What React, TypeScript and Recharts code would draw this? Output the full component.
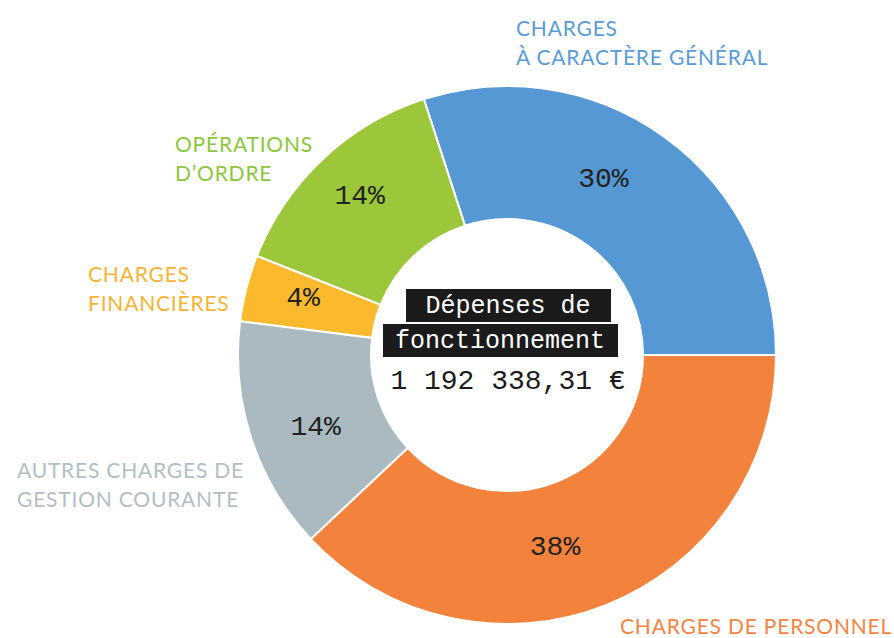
import React from 'react'
import { PieChart, Pie, Cell } from 'recharts'

const categories = [
  'CHARGES\nÀ CARACTÈRE GÉNÉRAL',
  'OPÉRATIONS\nD’ORDRE',
  'CHARGES\nFINANCIÈRES',
  'AUTRES CHARGES DE\nGESTION COURANTE',
  'CHARGES DE PERSONNEL',
]
const shares = [30, 14, 4, 14, 38]
const colors = ['#5598d3', '#9cc73b', '#fbba2d', '#abbac1', '#f2823c']
const textColors = ['#5b9bd5', '#8cc63e', '#f5b335', '#b2bec4', '#f28444']
const centerTitle = ['Dépenses de', 'fonctionnement']
const centerTotal = '1 192 338,31 €'

const data = categories.map((name, i) => ({ name, value: shares[i] }))

// where the category names sit (layout only)
const namePos = [
  { x: 516, y: 36 },
  { x: 175, y: 152 },
  { x: 88, y: 282 },
  { x: 17, y: 478 },
  { x: 620, y: 634 },
]
// small nudges for the percent labels, as in the original layout
const pctNudge = [
  [-25, -8],
  [-6, -8],
  [-4, -5],
  [5, 9],
  [-28, 1],
]

const RAD = Math.PI / 180
const mono = '"Liberation Mono", "DejaVu Sans Mono", monospace'

function renderLabel(props: any) {
  const { cx, cy, midAngle, innerRadius, outerRadius, value, index } = props
  const r = (innerRadius + outerRadius) / 2 + 4
  const x = cx + r * Math.cos(-midAngle * RAD) + pctNudge[index][0]
  const y = cy + r * Math.sin(-midAngle * RAD) + pctNudge[index][1]
  const pos = namePos[index]
  const lines = categories[index].split('\n')
  return (
    <g key={'lbl' + index}>
      <text x={x} y={y} textAnchor="middle" dominantBaseline="central" fill="#222" fontFamily={mono} fontSize={28}>
        {value}%
      </text>
      <text x={pos.x} y={pos.y} fill={textColors[index]} fontFamily="Lato, sans-serif" fontSize={21} letterSpacing={0.8}>
        {lines.map((l, k) => (
          <tspan key={k} x={pos.x} dy={k === 0 ? 0 : 29}>{l}</tspan>
        ))}
      </text>
    </g>
  )
}

export default function App() {
  return (
    <div style={{ position: 'absolute', left: 0, top: 0, background: '#fff' }}>
      <PieChart width={894} height={638} margin={{ top: 0, right: 0, bottom: 0, left: 0 }}>
        <Pie
          data={data}
          dataKey="value"
          nameKey="name"
          cx={507}
          cy={355}
          innerRadius={136}
          outerRadius={269}
          startAngle={0}
          endAngle={360}
          stroke="#fff"
          strokeWidth={2}
          label={renderLabel}
          labelLine={false}
          isAnimationActive={false}
        >
          {data.map((d, i) => (
            <Cell key={d.name} fill={colors[i]} />
          ))}
        </Pie>
        <g>
          <rect x={406} y={289} width={205} height={33} fill="#1b1b1b" />
          <rect x={383} y={324} width={235} height={33} fill="#1b1b1b" />
          <text x={508} y={306} textAnchor="middle" dominantBaseline="central" fill="#fff" fontFamily={mono} fontSize={25}>
            {centerTitle[0]}
          </text>
          <text x={500} y={341} textAnchor="middle" dominantBaseline="central" fill="#fff" fontFamily={mono} fontSize={25}>
            {centerTitle[1]}
          </text>
          <text x={508} y={381} textAnchor="middle" dominantBaseline="central" fill="#1b1b1b" fontFamily={mono} fontSize={28}>
            {centerTotal}
          </text>
        </g>
      </PieChart>
    </div>
  )
}
